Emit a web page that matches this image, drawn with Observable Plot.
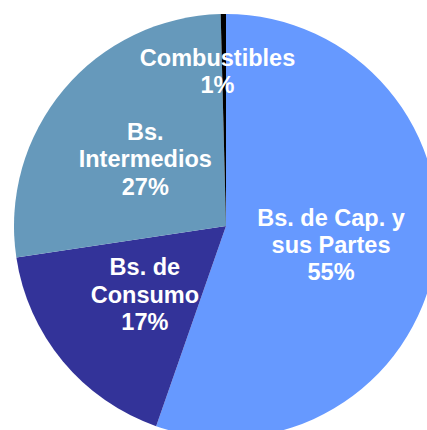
<!DOCTYPE html>
<html>
<head>
<meta charset="utf-8">
<script src="https://cdn.jsdelivr.net/npm/d3@7"></script>
<script src="https://cdn.jsdelivr.net/npm/@observablehq/plot@0.6"></script>
<style>
  html, body { margin: 0; padding: 0; background: #fff; }
  #chart svg { display: block; }
</style>
</head>
<body>
<div id="chart"></div>
<script>
// Data (clockwise from 12 o'clock)
const categories = ["Bs. de Cap. y\nsus Partes", "Bs. de\nConsumo", "Bs.\nIntermedios", "Combustibles"];
const values = [55.4, 17.3, 27.0, 0.4];
const pctLabels = ["55%", "17%", "27%", "1%"];
const colors = ["#6699FF", "#333399", "#6699BB", "#000000"];

const rows = categories.map((c, i) => ({category: c, value: values[i], pct: pctLabels[i]}));
const arcs = d3.pie().sort(null).value(d => d.value).startAngle(0).endAngle(2 * Math.PI)(rows);

// label anchor points in data units (unit circle), small slices pushed outward
const labels = arcs.map(a => {
  const mid = (a.startAngle + a.endAngle) / 2;
  const small = a.data.value < 5;
  const r = small ? 0.74 : 0.5;
  return {
    x: r * Math.sin(mid),
    y: r * Math.cos(mid),
    small,
    text: a.data.category + "\n" + a.data.pct
  };
});

const pieMark = (index, scales) => {
  const cx = scales.x(0), cy = scales.y(0);
  const R = Math.abs(scales.x(1) - scales.x(0));
  const g = d3.create("svg:g").attr("transform", `translate(${cx},${cy})`);
  const arcGen = d3.arc().innerRadius(0).outerRadius(R);
  g.selectAll("path")
    .data(arcs)
    .join("path")
    .attr("d", arcGen)
    .attr("fill", (d, i) => colors[i])
    .attr("stroke", "none");
  return g.node();
};

const textStyle = {
  x: "x",
  y: "y",
  text: "text",
  fill: "white",
  fontSize: 23.5,
  fontWeight: "bold",
  fontFamily: "'Liberation Sans', Arial, sans-serif",
  lineHeight: 1.17,
  textAnchor: "middle",
  lineAnchor: "middle"
};

const chart = Plot.plot({
  width: 427,
  height: 430,
  margin: 0,
  style: {background: "#fff", overflow: "hidden"},
  x: {domain: [-1, 1], range: [14, 438], axis: null},
  y: {domain: [-1, 1], range: [438, 14], axis: null},
  marks: [
    pieMark,
    Plot.text(labels.filter(d => !d.small), textStyle),
    Plot.text(labels.filter(d => d.small), {...textStyle, dx: -7, dy: 1})
  ]
});
document.getElementById("chart").append(chart);
</script>
</body>
</html>
